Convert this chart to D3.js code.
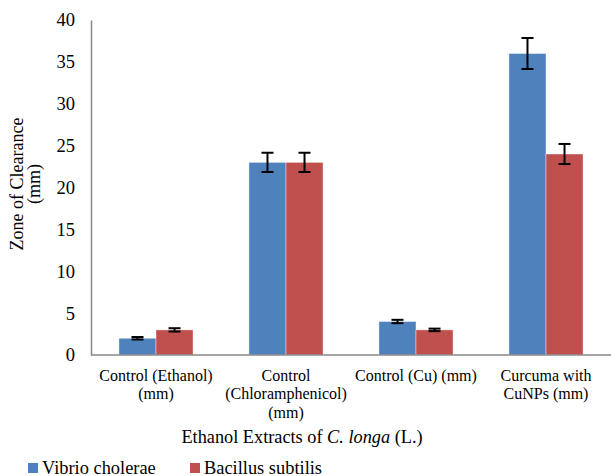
<!DOCTYPE html>
<html>
<head>
<meta charset="utf-8">
<script src="https://cdn.jsdelivr.net/npm/d3@7"></script>
<style>
  html, body { margin: 0; padding: 0; background: #fff; }
</style>
</head>
<body>
<svg id="chart" width="611" height="476"></svg>
<script>
// Zone of clearance (mm) for each treatment
const categories = [
  ["Control (Ethanol)", "(mm)"],
  ["Control", "(Chloramphenicol)", "(mm)"],
  ["Control (Cu) (mm)"],
  ["Curcuma with", "CuNPs (mm)"]
];
const seriesNames = ["Vibrio cholerae", "Bacillus subtilis"];
const vibrio = [2, 23, 4, 36];
const bacillus = [3, 23, 3, 24];
const vibrioErr = [0.15, 1.15, 0.2, 1.85];
const bacillusErr = [0.2, 1.15, 0.15, 1.2];
const yTicks = [0, 5, 10, 15, 20, 25, 30, 35, 40];
const colors = ["#4f81bd", "#c0504d"];
const FONT = "Liberation Serif";

const svg = d3.select("#chart");
const margin = { left: 91, right: 0, top: 20, bottom: 121 };
const W = 611, H = 476;
const plotBottom = H - margin.bottom;

const x = d3.scaleBand()
  .domain(d3.range(categories.length))
  .range([margin.left, W - margin.right])
  .paddingInner(0.43)
  .paddingOuter(0.215);
const xs = d3.scaleBand().domain([0, 1]).range([0, x.bandwidth()]);
const y = d3.scaleLinear().domain([0, 40]).range([plotBottom, margin.top]);

const values = [vibrio, bacillus];
const errs = [vibrioErr, bacillusErr];
const rows = [];
values.forEach((vals, s) => vals.forEach((v, i) => rows.push({ s, i, v, e: errs[s][i] })));

// bars
svg.append("g").selectAll("rect").data(rows).join("rect")
  .attr("x", d => x(d.i) + xs(d.s))
  .attr("y", d => y(d.v))
  .attr("width", xs.bandwidth())
  .attr("height", d => y(0) - y(d.v))
  .attr("fill", d => colors[d.s])
  .attr("stroke", "rgba(255,255,255,0.5)")
  .attr("stroke-width", 0.8);

// error bars
const eg = svg.append("g").attr("stroke", "#000").attr("stroke-width", 2);
rows.forEach(d => {
  const cx = x(d.i) + xs(d.s) + xs.bandwidth() / 2;
  const top = y(d.v + d.e), bot = y(d.v - d.e);
  eg.append("line").attr("x1", cx).attr("x2", cx).attr("y1", top).attr("y2", bot);
  eg.append("line").attr("x1", cx - 6).attr("x2", cx + 6).attr("y1", top).attr("y2", top);
  eg.append("line").attr("x1", cx - 6).attr("x2", cx + 6).attr("y1", bot).attr("y2", bot);
});

// y axis
const yAxis = svg.append("g")
  .attr("transform", `translate(${margin.left},0)`)
  .call(d3.axisLeft(y).tickValues(yTicks).tickSize(0).tickPadding(16));
yAxis.attr("font-family", FONT).attr("font-size", 18.5);
yAxis.select(".domain").attr("stroke", "#888").attr("stroke-width", 1.5);
yAxis.selectAll("text").attr("fill", "#000");

// x axis baseline
svg.append("line")
  .attr("x1", margin.left).attr("x2", W)
  .attr("y1", plotBottom).attr("y2", plotBottom)
  .attr("stroke", "#888").attr("stroke-width", 1.5);

// category labels
const lab = svg.append("g").attr("font-family", FONT).attr("font-size", 16);
categories.forEach((lines, i) => {
  const t = lab.append("text")
    .attr("text-anchor", "middle")
    .attr("x", x(i) + x.bandwidth() / 2)
    .attr("y", 380.5);
  lines.forEach((ln, k) => t.append("tspan")
    .attr("x", x(i) + x.bandwidth() / 2)
    .attr("dy", k === 0 ? 0 : 18.5)
    .text(ln));
});

// x title
const xt = svg.append("text")
  .attr("font-family", FONT).attr("font-size", 18.3)
  .attr("text-anchor", "middle")
  .attr("x", 302)
  .attr("y", 443);
xt.append("tspan").text("Ethanol Extracts of ");
xt.append("tspan").attr("font-style", "italic").text("C. longa");
xt.append("tspan").text(" (L.)");

// y title
const yt = svg.append("text")
  .attr("font-family", FONT).attr("font-size", 18)
  .attr("text-anchor", "middle")
  .attr("transform", "translate(23,184) rotate(-90)");
yt.append("tspan").attr("x", 0).attr("dy", 0).text("Zone of Clearance");
yt.append("tspan").attr("x", 0).attr("dy", 17).text("(mm)");

// legend
const legendX = [28, 190];
seriesNames.forEach((name, s) => {
  const g = svg.append("g").attr("transform", `translate(${legendX[s]},463)`);
  g.append("rect").attr("width", 10).attr("height", 10).attr("fill", colors[s]);
  g.append("text").attr("font-family", FONT).attr("font-size", 18.4)
    .attr("x", 14).attr("y", 10.5).text(name);
});
</script>
</body>
</html>
